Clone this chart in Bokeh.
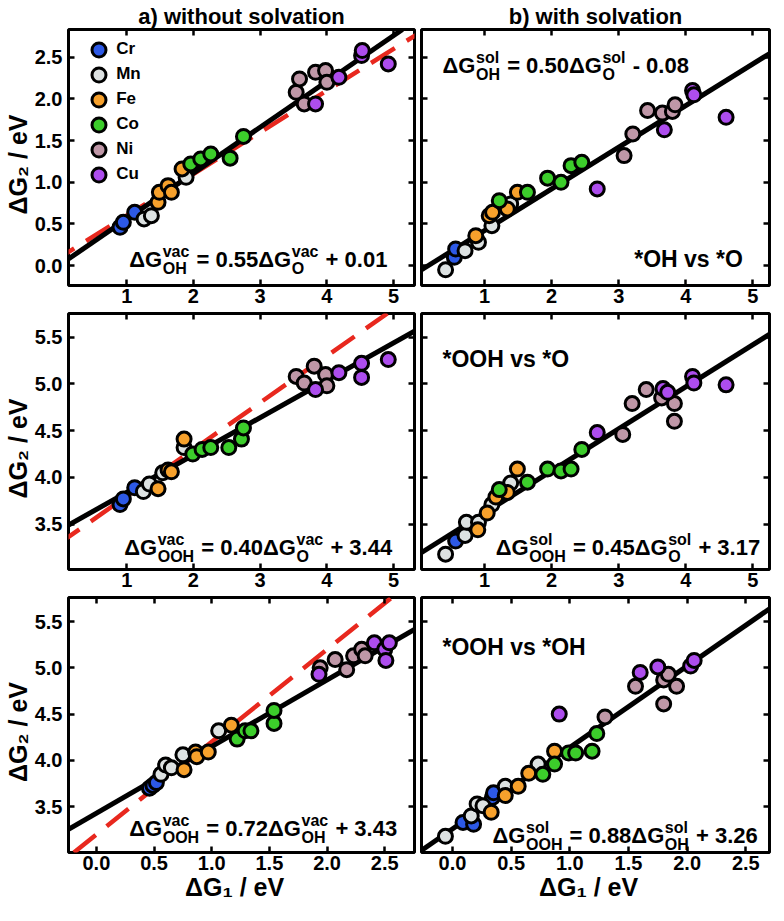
import math
from bokeh.plotting import figure
from bokeh.models import (Range1d, FixedTicker, LinearAxis, Slope, Label, Legend,
                          LegendItem, ColumnDataSource, PrintfTickFormatter)
from bokeh.layouts import column, row
from bokeh.embed import file_html
from bokeh.resources import INLINE

# ---------------- data ----------------
metals = ["Cr", "Mn", "Fe", "Co", "Ni", "Cu"]
metal_colors = ["#2d59e6", "#dde2e2", "#f7a12c", "#3ccd2b", "#bf97a7", "#ad4ded"]

# a) without solvation, *OH vs *O
a1_metal = ["Cr"]*3 + ["Mn"]*3 + ["Fe"]*5 + ["Co"]*5 + ["Ni"]*6 + ["Cu"]*5
a1_x = [0.90, 0.95, 1.12,  1.26, 1.37, 1.89,  1.47, 1.49, 1.62, 1.67, 1.83,
        1.96, 2.11, 2.26, 2.55, 2.75,  3.54, 3.59, 3.66, 3.83, 3.98, 4.00,
        3.83, 4.18, 4.52, 4.53, 4.92]
a1_y = [0.46, 0.52, 0.64,  0.56, 0.60, 1.06,  0.76, 0.88, 0.96, 0.88, 1.16,
        1.22, 1.28, 1.34, 1.29, 1.55,  2.08, 2.24, 1.94, 2.32, 2.34, 2.20,
        1.94, 2.26, 2.52, 2.58, 2.42]

# a) without solvation, *OOH vs *O
a2_metal = ["Cr"]*3 + ["Mn"]*4 + ["Fe"]*4 + ["Co"]*6 + ["Ni"]*5 + ["Cu"]*5
a2_x = [0.90, 0.95, 1.12,  1.25, 1.34, 1.54, 1.86,  1.47, 1.62, 1.67, 1.86,
        1.99, 2.13, 2.26, 2.53, 2.72, 2.75,  3.54, 3.66, 3.81, 3.98, 4.00,
        3.83, 4.18, 4.52, 4.52, 4.92]
a2_y = [3.71, 3.77, 3.89,  3.85, 3.93, 4.05, 4.32,  3.88, 4.08, 4.06, 4.41,
        4.25, 4.30, 4.32, 4.32, 4.41, 4.53,  5.08, 5.01, 5.19, 5.10, 4.98,
        4.94, 5.12, 5.22, 5.07, 5.26]

# a) without solvation, *OOH vs *OH
a3_metal = ["Cr"]*3 + ["Mn"]*5 + ["Fe"]*5 + ["Co"]*5 + ["Ni"]*6 + ["Cu"]*5
a3_x = [0.46, 0.49, 0.52,  0.56, 0.60, 0.65, 0.75, 1.06,  0.76, 0.86, 0.87, 0.97, 1.17,
        1.22, 1.29, 1.34, 1.54, 1.54,  1.94, 2.07, 2.17, 2.23, 2.30, 2.33,
        1.93, 2.41, 2.50, 2.51, 2.54]
a3_y = [3.70, 3.73, 3.76,  3.85, 3.95, 3.92, 4.06, 4.32,  3.90, 4.09, 4.04, 4.09, 4.38,
        4.23, 4.32, 4.32, 4.40, 4.54,  5.00, 5.09, 4.98, 5.13, 5.20, 5.13,
        4.93, 5.27, 5.20, 5.08, 5.27]

# b) with solvation, *OH vs *O
b1_metal = ["Cr"]*2 + ["Mn"]*5 + ["Fe"]*5 + ["Co"]*6 + ["Ni"]*6 + ["Cu"]*5
b1_x = [0.55, 0.57,  0.42, 0.71, 0.91, 1.11, 1.39,  0.87, 1.07, 1.12, 1.34, 1.49,
        1.22, 1.64, 1.94, 2.14, 2.29, 2.45,  3.08, 3.21, 3.43, 3.65, 3.80, 3.84,
        2.68, 3.68, 4.10, 4.12, 4.60]
b1_y = [0.10, 0.20,  -0.05, 0.18, 0.28, 0.48, 0.74,  0.36, 0.60, 0.64, 0.68, 0.88,
        0.78, 0.88, 1.05, 1.00, 1.20, 1.24,  1.32, 1.58, 1.86, 1.83, 1.85, 1.93,
        0.92, 1.63, 2.10, 2.05, 1.78]

# b) with solvation, *OOH vs *O
b2_metal = ["Cr"]*1 + ["Mn"]*6 + ["Fe"]*5 + ["Co"]*6 + ["Ni"]*6 + ["Cu"]*6
b2_x = [0.57,  0.42, 0.71, 0.73, 0.91, 1.11, 1.39,  0.90, 1.04, 1.17, 1.34, 1.49,
        1.22, 1.64, 1.94, 2.14, 2.29, 2.45,  3.06, 3.20, 3.41, 3.64, 3.83, 3.83,
        2.68, 3.66, 3.73, 4.10, 4.12, 4.60]
b2_y = [3.32,  3.18, 3.38, 3.52, 3.52, 3.71, 3.94,  3.44, 3.62, 3.79, 3.84, 4.09,
        3.87, 3.95, 4.09, 4.07, 4.09, 4.30,  4.46, 4.79, 4.94, 4.85, 4.79, 4.60,
        4.48, 4.95, 4.91, 5.08, 5.01, 4.99]

# b) with solvation, *OOH vs *OH
b3_metal = ["Cr"]*4 + ["Mn"]*6 + ["Fe"]*5 + ["Co"]*6 + ["Ni"]*6 + ["Cu"]*5
b3_x = [0.09, 0.18, 0.34, 0.35,  -0.06, 0.16, 0.21, 0.26, 0.45, 0.73,
        0.33, 0.45, 0.56, 0.65, 0.87,  0.77, 0.87, 0.99, 1.05, 1.19, 1.23,
        1.30, 1.56, 1.80, 1.80, 1.84, 1.91,  0.91, 1.60, 1.75, 2.03, 2.06]
b3_y = [3.33, 3.31, 3.60, 3.65,  3.18, 3.40, 3.53, 3.51, 3.72, 3.96,
        3.44, 3.62, 3.72, 3.86, 4.10,  3.85, 3.96, 4.08, 4.08, 4.10, 4.29,
        4.47, 4.80, 4.61, 4.87, 4.93, 4.80,  4.50, 4.95, 5.01, 5.02, 5.08]

# linear fits (slope, intercept) per row
vac_fit_slopes = [0.55, 0.40, 0.72]
vac_fit_intercepts = [0.01, 3.44, 3.43]
sol_fit_slopes = [0.50, 0.45, 0.88]
sol_fit_intercepts = [-0.08, 3.17, 3.26]
# reference scaling relations (red dashed)
ref_slopes = [0.5, 0.5, 1.0]
ref_intercepts = [0.10, 3.30, 3.20]

# adsorbate labels
sub_y = ["OH", "OOH", "OOH"]
sub_x = ["O", "O", "OH"]
pair_titles = ["*OH vs *O", "*OOH vs *O", "*OOH vs *OH"]
col_titles = ["a) without solvation", "b) with solvation"]
y_axis_title = "ΔG₂  /  eV"
x_axis_title = "ΔG₁  /  eV"

# ticks
x_ticks_O = [1, 2, 3, 4, 5]
x_ticks_OH = [0.0, 0.5, 1.0, 1.5, 2.0, 2.5]
y_ticks_OH = [0.0, 0.5, 1.0, 1.5, 2.0, 2.5]
y_ticks_OOH = [3.5, 4.0, 4.5, 5.0, 5.5]

# ---------------- styling helpers ----------------
FONT = "Liberation Sans"
AW = {' ': 278, '*': 389, '+': 584, '-': 333, '.': 278, '/': 278, '=': 584, 'Δ': 700,
      'G': 778, 'H': 722, 'O': 778, 'V': 667, 'a': 556, 'c': 556, 'e': 556, 'l': 278,
      'o': 611, 's': 556, 'v': 556, 't': 333}


def tw(s, size):
    return sum(AW.get(ch, 556) for ch in s) * size / 1000.0


def add_text(p, x, y, text, size, align="left", baseline="alphabetic"):
    p.add_layout(Label(x=x, y=y, x_units="screen", y_units="screen", text=text,
                       text_font=FONT, text_font_style="bold", text_font_size=f"{size}px",
                       text_color="black", text_align=align, text_baseline=baseline))


def add_equation(p, x, y, parts, main=22, small=16):
    cx = x
    for kind, content in parts:
        if kind == "m":
            stripped = content.lstrip(" ")
            cx += tw(content[:len(content) - len(stripped)], main)
            add_text(p, cx, y, stripped, main)
            cx += tw(stripped, main)
        else:
            sup, sub = content
            add_text(p, cx + 1, y + 8, sup, small)
            add_text(p, cx + 1, y - 9, sub, small)
            cx += max(tw(sup, small), tw(sub, small)) + 2


def eq_parts(tag, ysub, xsub, slope, icpt):
    sign = "+" if icpt >= 0 else "-"
    return [("m", "ΔG"), ("s", (tag, ysub)), ("m", f" = {slope:.2f}ΔG"),
            ("s", (tag, xsub)), ("m", f" {sign} {abs(icpt):.2f}")]


def style_axis(ax, ticks, fmt, show, standoff):
    ax.ticker = FixedTicker(ticks=ticks)
    ax.formatter = PrintfTickFormatter(format=fmt)
    ax.major_tick_in = 6
    ax.major_tick_out = 0
    ax.minor_tick_line_color = None
    ax.major_tick_line_color = "black"
    ax.major_tick_line_width = 2.5
    ax.axis_line_color = None
    ax.major_label_text_font = FONT
    ax.major_label_text_font_style = "bold"
    ax.major_label_text_color = "black"
    if show:
        ax.major_label_text_font_size = "20px"
        ax.major_label_standoff = standoff
    else:
        ax.major_label_overrides = {t: "" for t in ticks}
        ax.major_label_text_font_size = "0px"
        ax.major_label_standoff = 0


def style_axis_label(ax, text, standoff):
    ax.axis_label = text
    ax.axis_label_text_font = FONT
    ax.axis_label_text_font_style = "bold"
    ax.axis_label_text_font_size = "25px"
    ax.axis_label_text_color = "black"
    ax.axis_label_standoff = standoff


def make_fig(w, h, bl, br, bt, bb, xr, yr, xt, xfmt, yt, show_x, show_y, title=None):
    kw = {}
    if title:
        kw["title"] = title
    p = figure(width=w, height=h, x_range=Range1d(*xr), y_range=Range1d(*yr),
               output_backend="svg", toolbar_location=None,
               min_border_left=bl, min_border_right=br, min_border_top=bt, min_border_bottom=bb, **kw)
    if title:
        p.title.align = "center"
        p.title.text_font = FONT
        p.title.text_font_style = "bold"
        p.title.text_font_size = "22px"
        p.title.text_color = "black"
        p.title.standoff = 2
    p.grid.visible = False
    p.outline_line_color = "black"
    p.outline_line_width = 3
    p.outline_line_alpha = 1
    p.background_fill_color = "white"
    p.border_fill_color = "white"
    p.add_layout(LinearAxis(), "above")
    p.add_layout(LinearAxis(), "right")
    style_axis(p.below[0], xt, xfmt, show_x, 3)
    style_axis(p.above[0], xt, xfmt, False, 0)
    style_axis(p.left[0], yt, "%.1f", show_y, 6)
    style_axis(p.right[0], yt, "%.1f", False, 0)
    return p


def draw_points(p, xs, ys, ms):
    rs = {}
    for m, c in zip(metals, metal_colors):
        idx = [i for i, mm in enumerate(ms) if mm == m]
        src = ColumnDataSource(dict(x=[xs[i] for i in idx], y=[ys[i] for i in idx]))
        rs[m] = p.scatter("x", "y", source=src, size=14, fill_color=c,
                          line_color="black", line_width=3)
    return rs


# ---------------- layout geometry ----------------
W1, BL1, BR1 = 417, 63, 3
W2, BL2, BR2 = 355, 4, 3
rows_geom = [(312, 27, 27), (284, 1, 27), (309, 1, 53)]

xr_left = [(0.128, 5.313), (0.128, 5.313), (-0.242, 2.758)]
xr_right = [(0.061, 5.247), (0.061, 5.247), (-0.264, 2.702)]
yr_rows = [(-0.238, 2.833), (3.016, 5.753), (3.005, 5.760)]
x_ticks = [x_ticks_O, x_ticks_O, x_ticks_OH]
x_fmts = ["%d", "%d", "%.1f"]
y_ticks = [y_ticks_OH, y_ticks_OOH, y_ticks_OOH]

a_data = [(a1_x, a1_y, a1_metal), (a2_x, a2_y, a2_metal), (a3_x, a3_y, a3_metal)]
b_data = [(b1_x, b1_y, b1_metal), (b2_x, b2_y, b2_metal), (b3_x, b3_y, b3_metal)]

eq_pos_a = [(60.7, 25.7), (55.7, 22.0), (60.7, 24.3)]
eq_pos_b = [(21.0, 219.7), (74.3, 22.0), (71.0, 16.7)]
pair_pos = [(212.7, 26.3), (21.0, 210.3), (21.0, 205.7)]

rows = []
for r in range(3):
    h, bt, bb = rows_geom[r]
    fh = h - bt - bb
    pa = make_fig(W1, h, BL1, BR1, bt, bb, xr_left[r], yr_rows[r], x_ticks[r], x_fmts[r],
                  y_ticks[r], True, True, col_titles[0] if r == 0 else None)
    pb = make_fig(W2, h, BL2, BR2, bt, bb, xr_right[r], yr_rows[r], x_ticks[r], x_fmts[r],
                  y_ticks[r], True, False, col_titles[1] if r == 0 else None)

    pa.add_layout(Slope(gradient=ref_slopes[r], y_intercept=ref_intercepts[r],
                        line_color="#e8281e", line_width=4.5, line_dash="28 14", level="underlay"))
    pa.add_layout(Slope(gradient=vac_fit_slopes[r], y_intercept=vac_fit_intercepts[r],
                        line_color="black", line_width=5, level="underlay"))
    pb.add_layout(Slope(gradient=sol_fit_slopes[r], y_intercept=sol_fit_intercepts[r],
                        line_color="black", line_width=5, level="underlay"))

    ra = draw_points(pa, *a_data[r])
    draw_points(pb, *b_data[r])

    add_equation(pa, eq_pos_a[r][0], eq_pos_a[r][1],
                 eq_parts("vac", sub_y[r], sub_x[r], vac_fit_slopes[r], vac_fit_intercepts[r]))
    add_equation(pb, eq_pos_b[r][0], eq_pos_b[r][1],
                 eq_parts("sol", sub_y[r], sub_x[r], sol_fit_slopes[r], sol_fit_intercepts[r]))
    add_text(pb, pair_pos[r][0], pair_pos[r][1], pair_titles[r], 23)

    style_axis_label(pa.left[0], y_axis_title, 0)

    if r == 0:
        for k, m in enumerate(metals):
            leg = Legend(items=[LegendItem(label=m, renderers=[ra[m]])],
                         location=(13.2, fh - 39.5 - 25 * k),
                         glyph_width=35, glyph_height=35, label_standoff=-4,
                         padding=0, margin=0, border_line_color=None, background_fill_alpha=0,
                         label_text_font=FONT, label_text_font_style="bold",
                         label_text_font_size="17px", label_text_color="black")
            pa.add_layout(leg)
    if r == 2:
        style_axis_label(pa.below[0], x_axis_title, 0)
        style_axis_label(pb.below[0], x_axis_title, 0)
    rows.append(row(pa, pb))

layout = column(*rows)
open("out.html", "w").write(file_html(layout, INLINE))
